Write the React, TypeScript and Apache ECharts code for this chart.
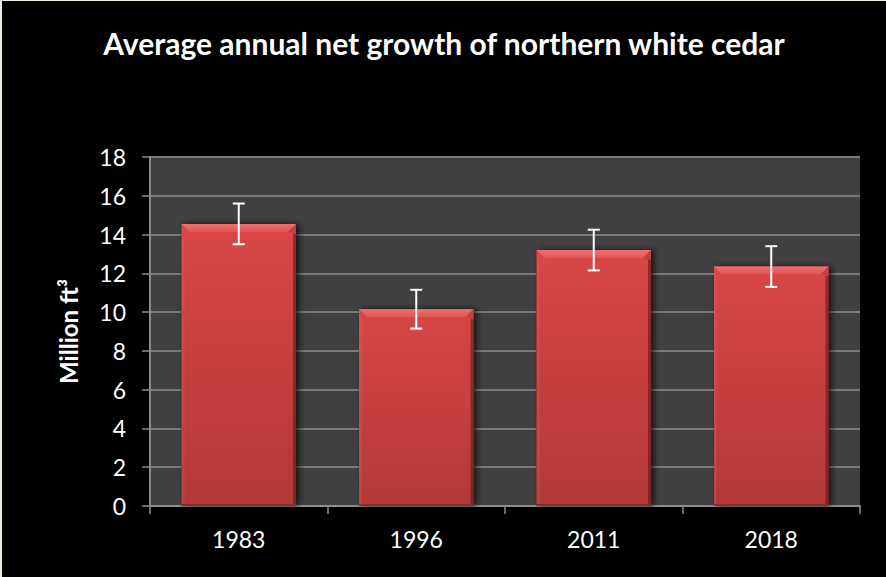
import React, { useEffect, useRef } from "react";
import * as echarts from "echarts";

const categories = ["1983", "1996", "2011", "2018"];
const growth = [14.55, 10.15, 13.2, 12.35];
const errors = [1.05, 1.0, 1.05, 1.05];
const yTicks = { min: 0, max: 18, interval: 2 };
const titleText = "Average annual net growth of northern white cedar";
const yAxisTitle = "Million ft\u00b3";

const FONT = "Lato, 'Open Sans', sans-serif";

export default function App() {
  const ref = useRef<HTMLDivElement>(null);
  useEffect(() => {
    if (!ref.current) return;
    const chart = echarts.init(ref.current, null, { renderer: "svg" });
    const barData = categories.map((c, i) => [i, growth[i]]);
    const errData = categories.map((c, i) => [i, growth[i], errors[i]]);
    chart.setOption({
      animation: false,
      backgroundColor: "#000000",
      title: {
        text: titleText,
        left: "center",
        top: 22,
        textStyle: { color: "#ffffff", fontSize: 30, fontWeight: "bold", fontFamily: FONT },
      },
      grid: { left: 148, right: 26, top: 156, bottom: 71, show: true, backgroundColor: "#404040", borderWidth: 0 },
      xAxis: {
        type: "category",
        data: categories,
        axisLine: { show: true, lineStyle: { color: "#8c8c8c", width: 2 } },
        axisTick: { show: true, length: 8, lineStyle: { color: "#8c8c8c", width: 1.5 } },
        axisLabel: { color: "#ffffff", fontSize: 23, fontFamily: FONT, margin: 21 },
        splitLine: { show: false },
      },
      yAxis: {
        type: "value",
        min: yTicks.min,
        max: yTicks.max,
        interval: yTicks.interval,
        name: yAxisTitle,
        nameLocation: "middle",
        nameGap: 70,
        nameTextStyle: { color: "#ffffff", fontSize: 24, fontWeight: "bold", fontFamily: FONT },
        axisLine: { show: true, lineStyle: { color: "#8c8c8c", width: 2 } },
        axisTick: { show: true, length: 8, lineStyle: { color: "#8c8c8c", width: 1.5 } },
        axisLabel: { color: "#ffffff", fontSize: 23, fontFamily: FONT, margin: 24 },
        splitLine: { show: true, lineStyle: { color: "#7a7a7a", width: 2 } },
      },
      series: [
        {
          type: "custom",
          data: barData,
          encode: { x: 0, y: 1 },
          renderItem: (params: any, api: any) => {
            const x = api.value(0);
            const v = api.value(1);
            const top = api.coord([x, v]);
            const base = api.coord([x, 0]);
            const bw = api.size([1, 0])[0] * 0.645;
            const l = top[0] - bw / 2;
            const r = l + bw;
            const t = top[1];
            const b = base[1];
            const bev = 8;
            return {
              type: "group",
              children: [
                {
                  type: "rect",
                  shape: { x: l, y: t, width: bw, height: b - t },
                  style: {
                    fill: "#5a1a1a",
                    shadowBlur: 6,
                    shadowOffsetX: 3,
                    shadowOffsetY: 0,
                    shadowColor: "rgba(0,0,0,0.7)",
                  },
                },
                {
                  type: "rect",
                  shape: { x: l, y: t, width: bw, height: b - t },
                  style: {
                    fill: new echarts.graphic.LinearGradient(0, 0, 0, 1, [
                      { offset: 0, color: "#d94646" },
                      { offset: 1, color: "#b33838" },
                    ]),
                  },
                },
                {
                  type: "polygon",
                  shape: { points: [[r, t], [r, b], [r - 3, b], [r - 3, t + bev]] },
                  style: { fill: "rgba(90,20,20,0.55)" },
                },
                {
                  type: "polygon",
                  shape: { points: [[l, t], [l + 3, t + bev], [l + 3, b], [l, b]] },
                  style: { fill: "rgba(255,120,120,0.15)" },
                },
                {
                  type: "polygon",
                  shape: { points: [[l, t], [r, t], [r - bev, t + bev], [l + bev, t + bev]] },
                  style: {
                    fill: new echarts.graphic.LinearGradient(0, 0, 0, 1, [
                      { offset: 0, color: "#ef7070" },
                      { offset: 1, color: "#e05454" },
                    ]),
                  },
                },
                {
                  type: "polygon",
                  shape: { points: [[r, t], [r, t + bev + 2], [r - bev, t + bev]] },
                  style: { fill: "#c34040" },
                },
                {
                  type: "rect",
                  shape: { x: l, y: b - 2, width: bw, height: 2 },
                  style: { fill: "#8e2a2a" },
                },
              ],
            };
          },
          z: 2,
        },
        {
          type: "custom",
          data: errData,
          encode: { x: 0, y: 1 },
          renderItem: (params: any, api: any) => {
            const x = api.value(0);
            const v = api.value(1);
            const e = api.value(2);
            const hi = api.coord([x, v + e]);
            const lo = api.coord([x, v - e]);
            const cap = 6;
            const st = { stroke: "#ffffff", lineWidth: 2 };
            return {
              type: "group",
              children: [
                { type: "line", shape: { x1: hi[0], y1: hi[1], x2: lo[0], y2: lo[1] }, style: st },
                { type: "line", shape: { x1: hi[0] - cap, y1: hi[1], x2: hi[0] + cap, y2: hi[1] }, style: st },
                { type: "line", shape: { x1: lo[0] - cap, y1: lo[1], x2: lo[0] + cap, y2: lo[1] }, style: st },
              ],
            };
          },
          z: 3,
        },
      ],
    });
    return () => chart.dispose();
  }, []);
  return (
    <div
      style={{
        position: "fixed",
        left: 0,
        top: 0,
        width: 886,
        height: 577,
        background: "#000",
        boxSizing: "border-box",
        borderLeft: "2px solid #efebdf",
        borderTop: "1px solid #efebdf",
      }}
    >
      <div ref={ref} style={{ width: 884, height: 576 }} />
    </div>
  );
}
